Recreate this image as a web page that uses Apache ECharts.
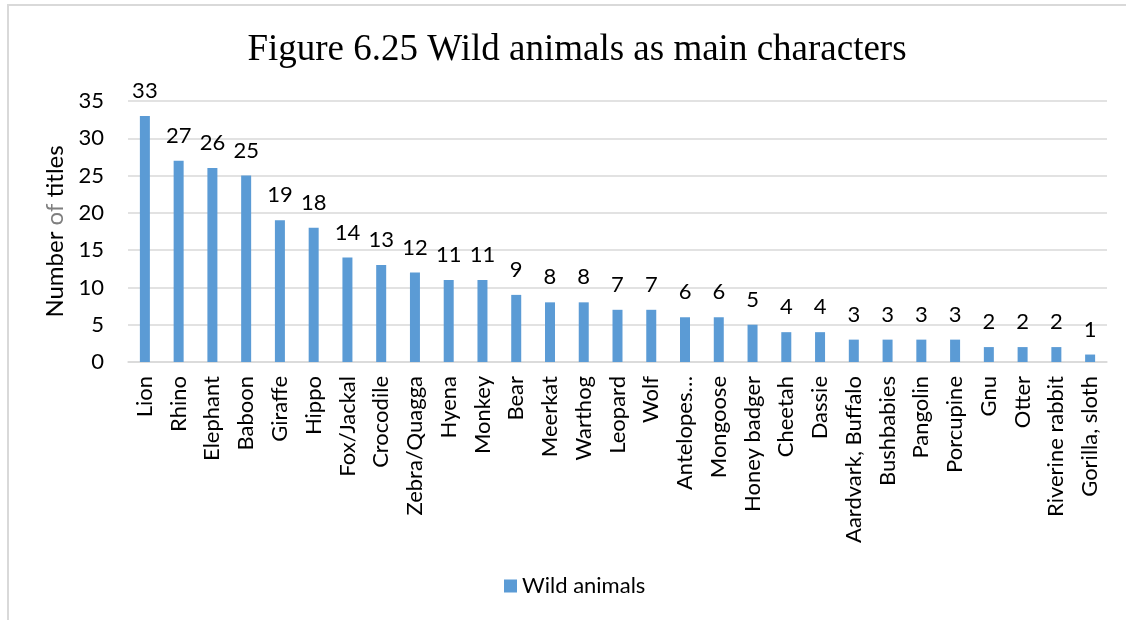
<!DOCTYPE html>
<html>
<head>
<meta charset="utf-8">
<script src="https://cdn.jsdelivr.net/npm/echarts@6/dist/echarts.min.js"></script>
<style>
html,body{margin:0;padding:0;background:#fff;}
#c{width:1126px;height:620px;}
</style>
</head>
<body>
<div id="c"></div>
<script>
const categories = ["Lion","Rhino","Elephant","Baboon","Giraffe","Hippo","Fox/Jackal","Crocodile","Zebra/Quagga","Hyena","Monkey","Bear","Meerkat","Warthog","Leopard","Wolf","Antelopes…","Mongoose","Honey badger","Cheetah","Dassie","Aardvark, Buffalo","Bushbabies","Pangolin","Porcupine","Gnu","Otter","Riverine rabbit","Gorilla, sloth"];
const values = [33,27,26,25,19,18,14,13,12,11,11,9,8,8,7,7,6,6,5,4,4,3,3,3,3,2,2,2,1];
const seriesName = "Wild animals";
const titleText = "Figure 6.25 Wild animals as main characters";
const yTicks = {min:0, max:35, interval:5};

const font = "Lato, 'Open Sans', sans-serif";
const chart = echarts.init(document.getElementById('c'), null, {renderer:'canvas'});
chart.setOption({
  animation:false,
  backgroundColor:'#fff',
  title:{text:titleText,left:572,textAlign:'center',top:27,
    textStyle:{fontFamily:"'Liberation Serif', 'DejaVu Serif', serif",fontSize:37,fontWeight:'normal',color:'#000'}},
  graphic:[{type:'rect',shape:{x:8,y:5,width:1300,height:800},style:{fill:'none',stroke:'#d9d9d9',lineWidth:2},silent:true}],
  legend:{bottom:18,left:499,itemWidth:13,itemHeight:13,itemGap:6,icon:'rect',
    textStyle:{fontFamily:font,fontSize:22,color:'#000'},data:[seriesName]},
  grid:{left:128,right:19,top:101,bottom:258,containLabel:false},
  xAxis:{type:'category',data:categories,
    axisLine:{lineStyle:{color:'#d9d9d9',width:1.5}},axisTick:{show:false},
    axisLabel:{rotate:90,interval:0,fontFamily:font,fontSize:22,color:'#000',margin:14}},
  yAxis:{type:'value',min:yTicks.min,max:yTicks.max,interval:yTicks.interval,
    name:'{a|Number }{b|of}{a| titles}',nameLocation:'middle',nameGap:53,nameRotate:90,
    nameTextStyle:{rich:{a:{fontFamily:font,fontSize:24,color:'#000'},b:{fontFamily:font,fontSize:24,color:'#7f7f7f'}}},
    axisLine:{show:false},axisTick:{show:false},
    splitLine:{lineStyle:{color:'#d9d9d9',width:1.5}},
    axisLabel:{fontFamily:font,fontSize:22,color:'#000',margin:24}},
  series:[{name:seriesName,type:'bar',data:values,barWidth:10,
    itemStyle:{color:'#5b9bd5'},
    label:{show:true,position:'top',distance:14,fontFamily:font,fontSize:22,color:'#000'}}]
});
</script>
</body>
</html>
